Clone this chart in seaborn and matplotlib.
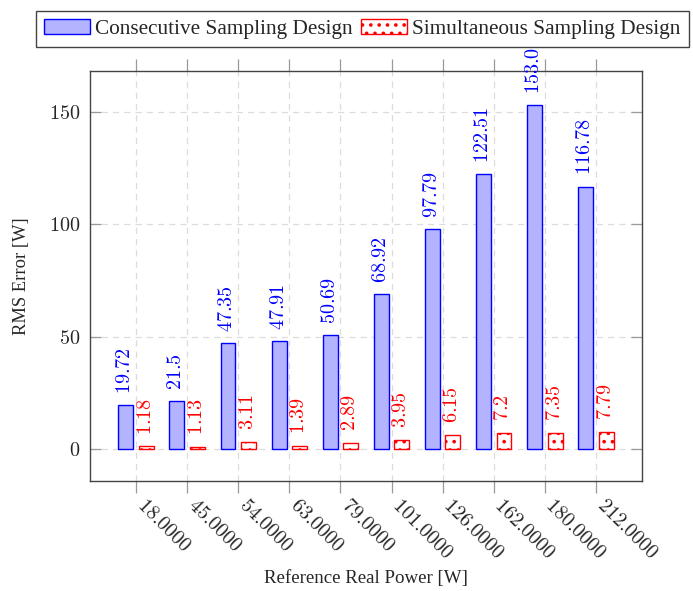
import matplotlib
matplotlib.use("Agg")
import matplotlib.pyplot as plt
import seaborn as sns
import pandas as pd
from matplotlib.patches import Patch

# Reference real power levels (x categories)
power_levels = ["18.0000", "45.0000", "54.0000", "63.0000", "79.0000",
                "101.0000", "126.0000", "162.0000", "180.0000", "212.0000"]

# RMS error for each design
consecutive_rms = [19.72, 21.5, 47.35, 47.91, 50.69, 68.92, 97.79, 122.51, 153.0, 116.78]
simultaneous_rms = [1.18, 1.13, 3.11, 1.39, 2.89, 3.95, 6.15, 7.2, 7.35, 7.79]

series_names = ["Consecutive Sampling Design", "Simultaneous Sampling Design"]
y_ticks = [0, 50, 100, 150]

df = pd.DataFrame({
    "power": power_levels * 2,
    "rms": consecutive_rms + simultaneous_rms,
    "design": [series_names[0]] * len(power_levels) + [series_names[1]] * len(power_levels),
})

sns.set_style("white")
plt.rcParams["font.family"] = ["Liberation Serif", "DejaVu Serif"]
plt.rcParams["mathtext.fontset"] = "cm"
plt.rcParams["hatch.linewidth"] = 1.4

NUM_SIZE = 14.5
blue = "#0000ff"
red = "#ff0000"
blue_fill = "#b3b3ff"
DOTS = ".."

fig = plt.figure(figsize=(6.93, 5.91), dpi=100)
ax = fig.add_axes([90 / 693, 1 - 481 / 591, (642 - 90) / 693, (481 - 71) / 591])

sns.barplot(data=df, x="power", y="rms", hue="design", order=power_levels,
            hue_order=series_names, palette=[blue_fill, "white"],
            width=0.8, gap=0.275, saturation=1, legend=False, ax=ax, zorder=3)

cons_bars, simul_bars = ax.containers[0], ax.containers[1]
for b in cons_bars:
    b.set_edgecolor(blue)
    b.set_linewidth(1.0)
for b in simul_bars:
    b.set_facecolor("white")
    b.set_edgecolor(red)
    b.set_linewidth(1.0)
    b.set_hatch(DOTS)

ax.bar_label(cons_bars, labels=[f"${v}$" for v in consecutive_rms], rotation=90,
             padding=8, color=blue, fontsize=NUM_SIZE)
ax.bar_label(simul_bars, labels=[f"${v}$" for v in simultaneous_rms], rotation=90,
             padding=8.5, color=red, fontsize=NUM_SIZE)

ax.set_xlim(-0.9, 9.9)
ax.set_ylim(-14.2, 168.2)
ax.set_yticks(y_ticks)
ax.set_yticklabels([f"${t}$" for t in y_ticks], fontsize=NUM_SIZE)
ax.set_xticks(range(len(power_levels)))
ax.set_xticklabels([f"${p}$" for p in power_levels], fontsize=NUM_SIZE,
                   rotation=-45, ha="left", va="baseline", rotation_mode="anchor")

ax.tick_params(axis="x", which="both", direction="out", top=True, bottom=True,
               length=8.5, width=0.9, color="#9a9a9a", pad=9)
ax.tick_params(axis="y", which="both", direction="in", left=True, right=True,
               length=8, width=0.9, color="#9a9a9a", pad=7)

ax.grid(True, color="#dcdcdc", linestyle=(0, (5, 4)), linewidth=0.9)
ax.set_axisbelow(True)
for s in ax.spines.values():
    s.set_color("#444444")
    s.set_linewidth(1.0)

ax.set_xlabel("Reference Real Power [W]", fontsize=13.6)
ax.xaxis.set_label_coords(0.5, (481 - 579) / 410)
ax.xaxis.label.set_va("center")
ax.set_ylabel("RMS Error [W]", fontsize=13.3)
ax.yaxis.set_label_coords((22 - 90) / 552, 0.5)
ax.yaxis.label.set_va("center")

handles = [Patch(facecolor=blue_fill, edgecolor=blue, linewidth=1.0),
           Patch(facecolor="white", edgecolor=red, hatch=DOTS, linewidth=1.0)]
leg = fig.legend(handles, series_names, loc="center",
                 bbox_to_anchor=(362.5 / 693, 1 - 29 / 591),
                 ncol=2, fontsize=15.3, frameon=True, fancybox=False, framealpha=1,
                 edgecolor="#444444", handlelength=2.16, handleheight=0.7,
                 handletextpad=0.24, columnspacing=0.4, borderpad=0.4, borderaxespad=0)
leg.get_frame().set_linewidth(1.0)

fig.savefig("out.png", dpi=100)
